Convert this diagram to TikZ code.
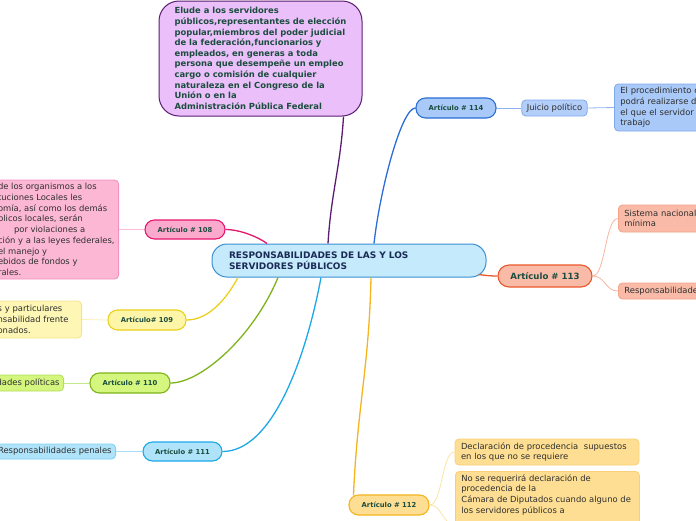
\documentclass[tikz,border=0pt]{standalone}
\usepackage{fontspec}
\setmainfont{DejaVu Sans}
\usetikzlibrary{positioning, calc}

\definecolor{mainfill}{HTML}{C5EAFB}
\definecolor{mainline}{HTML}{3C8FD2}
\definecolor{mainink}{HTML}{1B2B57}
\definecolor{eludefill}{HTML}{EBC0FA}
\definecolor{eludeline}{HTML}{5A1D72}
\definecolor{artink}{HTML}{1B4D3E}
\definecolor{leafink}{HTML}{2F2F2F}
\definecolor{c114}{HTML}{2B6ED6}
\definecolor{f114}{HTML}{A9C9F8}
\definecolor{l114line}{HTML}{7FAAEE}
\definecolor{l114conn}{HTML}{8DB4F0}
\definecolor{c113}{HTML}{E9582B}
\definecolor{f113}{HTML}{F9BBA7}
\definecolor{l113line}{HTML}{F4A48A}
\definecolor{l113conn}{HTML}{F7B59F}
\definecolor{c108}{HTML}{E6156C}
\definecolor{f108}{HTML}{FBAACE}
\definecolor{l108line}{HTML}{F58FC0}
\definecolor{l108conn}{HTML}{FBBCD8}
\definecolor{c109}{HTML}{EBCF1D}
\definecolor{f109}{HTML}{FDF5A7}
\definecolor{l109line}{HTML}{F2E38A}
\definecolor{l109conn}{HTML}{F8F0B5}
\definecolor{c110}{HTML}{7EB31B}
\definecolor{f110}{HTML}{D4F67F}
\definecolor{l110line}{HTML}{B3DC5C}
\definecolor{l110conn}{HTML}{C5E88B}
\definecolor{c111}{HTML}{1DA8E8}
\definecolor{f111}{HTML}{AEE3FA}
\definecolor{l111line}{HTML}{80CEF3}
\definecolor{l111conn}{HTML}{A8DEF7}
\definecolor{c112}{HTML}{F5B41D}
\definecolor{f112}{HTML}{FDDE93}
\definecolor{l112line}{HTML}{FBCF79}
\definecolor{l112conn}{HTML}{FCE3A6}

\begin{document}
\begin{tikzpicture}[
        x=1pt, y=-1pt,
        central/.style={rectangle, rounded corners=15, draw=mainline, fill=mainfill, line width=1pt, minimum width=274, minimum height=33, text width=240, align=left, inner sep=0, font=\fontsize{9}{11}\selectfont\bfseries, text=mainink},
        articulo/.style={rectangle, rounded corners=9.5, line width=1.1pt, minimum width=80, minimum height=20, inner sep=0, font=\fontsize{6.8}{8}\selectfont\bfseries, text=artink},
        hoja/.style={rectangle, rounded corners=4, line width=0.8pt, inner xsep=5, inner ysep=2, align=left, font=\fontsize{8.4}{10.7}\selectfont, text=leafink},
        rama/.style={line width=1.3pt},
        ramita/.style={line width=0.8pt}
    ]
        \useasboundingbox (0,0) rectangle (696,520);
        \clip (0,0) rectangle (696,520);

        % --- CENTRAL NODE ---
        \node[central] (centro) at (349,260.5) {RESPONSABILIDADES DE LAS Y LOS\\SERVIDORES PÚBLICOS};

        % --- TOP NOTE ---
        \node[rectangle, rounded corners=20, draw=eludeline, fill=eludefill, line width=1pt, minimum width=203, minimum height=115, align=left, inner sep=0, font=\fontsize{8.4}{10.6}\selectfont\bfseries, text=artink] (elude) at (260.5,58.5) {Elude a los servidores\\públicos,representantes de elección\\popular,miembros del poder judicial\\de la federación,funcionarios y\\empleados, en generas a toda\\persona que desempeñe un empleo\\cargo o comisión de cualquier\\naturaleza en el Congreso de la\\Unión o en la\\Administración Pública Federal};

        % --- ARTICLES ---
        \node[articulo, draw=c114, fill=f114] (art114) at (456,108) {Artículo \# 114};
        \node[articulo, draw=c113, fill=f113, minimum width=94, minimum height=22, rounded corners=11, font=\fontsize{8.6}{10}\selectfont\bfseries] (art113) at (545,276) {Artículo \# 113};
        \node[articulo, draw=c108, fill=f108, minimum height=19] (art108) at (185,229.5) {Artículo \# 108};
        \node[articulo, draw=c109, fill=f109, minimum width=78] (art109) at (147,320) {Artículo\# 109};
        \node[articulo, draw=c110, fill=f110] (art110) at (130,383) {Artículo \# 110};
        \node[articulo, draw=c111, fill=f111, minimum width=79, minimum height=19] (art111) at (182.5,451.5) {Artículo \# 111};
        \node[articulo, draw=c112, fill=f112] (art112) at (389,505) {Artículo \# 112};

        % --- LEAVES ---
        \node[hoja, draw=l114line, fill=f114!90!white, minimum width=65, minimum height=16, inner ysep=0] (juicio) at (554.5,108) {Juicio político};
        \node[hoja, draw=l114line, fill=f114, anchor=west, text width=100, minimum height=47, inner xsep=6] (proced) at (614,107.5) {El procedimiento c\\podrá realizarse d\\el que el servidor p\\trabajo};
        \node[hoja, draw=l113line, fill=f113, anchor=west, text width=100, minimum height=27, inner xsep=6] (sistema) at (618,218.5) {Sistema nacional\\mínima};
        \node[hoja, draw=l113line, fill=f113, anchor=west, text width=100, minimum height=16, inner ysep=0, inner xsep=6] (respons) at (618,291) {Responsabilidade};
        \node[hoja, draw=l108line, fill=f108!85!white, anchor=east, minimum height=99, inner xsep=4] (hoja108) at (119,229.5) {de los organismos a los\\tuciones Locales les\\omía, así como los demás\\blicos locales, serán\\\hspace*{16pt}por violaciones a\\ción y a las leyes federales,\\el manejo y\\ebidos de fondos y\\rales.};
        \node[hoja, draw=l109line, fill=f109!85!white, anchor=east, text width=79, minimum height=37, inner xsep=5] (hoja109) at (82,319.5) {s y particulares\\nsabilidad frente\\onados.};
        \node[hoja, draw=l110line, fill=f110, anchor=east, minimum height=16, inner ysep=0, inner xsep=4] (hoja110) at (64,383) {dades políticas};
        \node[hoja, draw=l111line, fill=f111, anchor=east, minimum height=15, inner ysep=0, inner xsep=4] (hoja111) at (116,451.5) {Responsabilidades penales};
        \node[hoja, draw=l112line, fill=f112, text width=172, minimum height=26, inner xsep=6] (declara) at (547,452) {Declaración de procedencia\ \ supuestos\\en los que no se requiere};
        \node[hoja, draw=l112line, fill=f112, anchor=north west, inner xsep=6, inner ysep=3] (nose) at (455,471) {\parbox[t][100pt][t]{172pt}{No se requerirá declaración de\\procedencia de la\\Cámara de Diputados cuando alguno de\\los servidores públicos a}};

        % --- MAIN BRANCHES ---
        \draw[rama, draw=eludeline] ($(centro.north)+(-21,0)$) .. controls +(3,-50) and +(-3,50) .. ($(elude.south)+(83,0)$);
        \draw[rama, draw=c114] ($(centro.north)+(25,0)$) .. controls +(6,-54) and +(-14,0) .. (art114.west);
        \draw[rama, draw=c108] ($(centro.north)+(-82,0)$) .. controls +(-8,-6) and +(15,0) .. (art108.east);
        \draw[rama, draw=c109] ($(centro.south)+(-111,0)$) .. controls +(-12,22) and +(22,0) .. (art109.east);
        \draw[rama, draw=c110] ($(centro.south)+(-71,0)$) .. controls +(-25,60) and +(30,0) .. (art110.east);
        \draw[rama, draw=c111] ($(centro.south)+(-28,0)$) .. controls +(-15,80) and +(50,0) .. (art111.east);
        \draw[rama, draw=c112] ($(centro.south)+(22,0)$) .. controls +(-2,90) and +(4,-90) .. ($(art112.north west)+(5,1)$);
        \draw[rama, draw=c113] ($(centro.south east)+(-8,-3)$) .. controls +(8,1) and +(-8,0) .. (art113.west);

        % --- LEAF BRANCHES ---
        \draw[ramita, draw=l114conn] (art114.east) -- (juicio.west);
        \draw[ramita, draw=l114conn] (juicio.east) -- (proced.west);
        \draw[ramita, draw=l113conn] (art113.east) .. controls +(13,0) and +(-13,0) .. (sistema.west);
        \draw[ramita, draw=l113conn] (art113.east) .. controls +(13,0) and +(-13,0) .. (respons.west);
        \draw[ramita, draw=l108conn] (art108.west) -- (hoja108.east);
        \draw[ramita, draw=l109conn] (art109.west) -- (hoja109.east);
        \draw[ramita, draw=l110conn] (art110.west) -- (hoja110.east);
        \draw[ramita, draw=l111conn] (art111.west) -- (hoja111.east);
        \draw[ramita, draw=l112conn] (art112.east) .. controls +(13,0) and +(-13,0) .. (declara.west);
        \draw[ramita, draw=l112conn] (art112.east) .. controls +(13,0) and +(-13,0) .. (nose.west);

    \end{tikzpicture}
\end{document}
